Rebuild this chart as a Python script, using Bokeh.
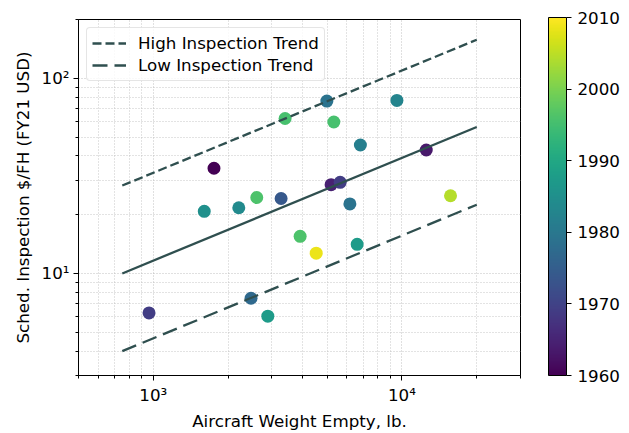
from bokeh.plotting import figure
from bokeh.models import (ColumnDataSource, LinearColorMapper, ColorBar, FixedTicker,
                          Legend)
from bokeh.palettes import Viridis256
from bokeh.embed import file_html
from bokeh.resources import INLINE

# ---- data ----
weight = [961, 1754, 1603, 2207, 2607, 3266, 3389, 2472, 2888, 3896, 4521,
          4990, 5323, 6808, 9547, 12530, 5190, 5644, 6176, 15690, 6607]
cost = [6.28, 34.6, 20.8, 21.7, 24.5, 24.2, 62.2, 7.46, 6.04, 15.5, 12.7,
        76.4, 59.7, 45.5, 77.0, 42.9, 28.5, 29.3, 22.7, 25.0, 14.1]
year = [1969, 1960, 1985, 1984, 1996, 1974, 1995.5, 1977, 1987.5, 1996, 2008.5,
        1979, 1995.5, 1981.5, 1982.5, 1963.5, 1964.5, 1969, 1979, 2004.5, 1987.5]

trend_x = [750, 20000]
trend_mid = [10.0, 56.3]
trend_high = [28.2, 157.5]
trend_low = [4.0, 22.5]

x_major = [1000, 10000]
x_minor = [500, 600, 700, 800, 900, 2000, 3000, 4000, 5000, 6000, 7000, 8000, 9000, 20000, 30000]
y_major = [10, 100]
y_minor = [3, 4, 5, 6, 7, 8, 9, 20, 30, 40, 50, 60, 70, 80, 90, 200]
x_labels = {1000: "10³", 10000: "10⁴"}
y_labels = {10: "10¹", 100: "10²"}
cbar_ticks = [1960, 1970, 1980, 1990, 2000, 2010]

FONT = "DejaVu Sans"
FS = "16.7px"
LINE_COLOR = "#2f4f4f"

p = figure(width=629, height=433, x_axis_type="log", y_axis_type="log",
           x_range=(500, 30000), y_range=(3, 200),
           output_backend="svg", toolbar_location=None,
           min_border_left=78, min_border_right=109, min_border_top=19, min_border_bottom=56)
p.background_fill_color = "white"
p.border_fill_color = "white"
p.outline_line_color = "black"
p.outline_line_width = 1

mapper = LinearColorMapper(palette=Viridis256, low=1960, high=2010)
src = ColumnDataSource(dict(x=weight, y=cost, year=year))
p.scatter("x", "y", source=src, size=13, line_color=None,
          fill_color={"field": "year", "transform": mapper})

p.line(trend_x, trend_mid, line_color=LINE_COLOR, line_width=2.3)
r_high = p.line(trend_x, trend_high, line_color=LINE_COLOR, line_width=2.3, line_dash="9 4")
r_low = p.line(trend_x, trend_low, line_color=LINE_COLOR, line_width=2.3, line_dash="15 7")

legend = Legend(items=[("High Inspection Trend", [r_high]), ("Low Inspection Trend", [r_low])],
                location="top_left")
legend.label_text_font = FONT
legend.label_text_font_size = FS
legend.label_text_color = "black"
legend.glyph_width = 34
legend.label_standoff = 12
legend.spacing = 2
legend.padding = 5
legend.margin = 8
legend.border_line_color = "#cccccc"
legend.border_line_width = 1
legend.background_fill_alpha = 0.8
try:
    legend.border_radius = 4
except Exception:
    pass
p.add_layout(legend, "center")

for ax, major, minor, labels in ((p.xaxis[0], x_major, x_minor, x_labels),
                                 (p.yaxis[0], y_major, y_minor, y_labels)):
    ax.ticker = FixedTicker(ticks=major, minor_ticks=minor)
    ax.major_label_overrides = labels
    ax.major_label_text_font = FONT
    ax.major_label_text_font_size = FS
    ax.major_label_text_color = "black"
    ax.axis_label_text_font = FONT
    ax.axis_label_text_font_size = FS
    ax.axis_label_text_font_style = "normal"
    ax.axis_label_text_color = "black"
    ax.axis_line_color = "black"
    ax.major_tick_line_color = "black"
    ax.minor_tick_line_color = "black"
    ax.major_tick_in = 0
    ax.major_tick_out = 5
    ax.minor_tick_in = 0
    ax.minor_tick_out = 3

p.xaxis.axis_label = "Aircraft Weight Empty, lb."
p.yaxis.axis_label = "Sched. Inspection $/FH (FY21 USD)"
p.xaxis.major_label_standoff = 4
p.yaxis.major_label_standoff = 4
p.xaxis.axis_label_standoff = 3
p.yaxis.axis_label_standoff = 6

for g in (p.xgrid[0], p.ygrid[0]):
    g.grid_line_color = "#b0b0b0"
    g.grid_line_dash = "1 2"
    g.grid_line_width = 0.8
    g.minor_grid_line_color = "#b8b8b8"
    g.minor_grid_line_dash = "1 2"
    g.minor_grid_line_width = 0.8
p.xgrid[0].ticker = p.xaxis[0].ticker
p.ygrid[0].ticker = p.yaxis[0].ticker

cbar = ColorBar(color_mapper=mapper, ticker=FixedTicker(ticks=cbar_ticks),
                width=18, height=358, margin=0, padding=0,
                location=(28, 0),
                bar_line_color="black", bar_line_width=1,
                major_tick_line_color="black", major_tick_in=0, major_tick_out=5,
                major_label_text_font=FONT, major_label_text_font_size=FS,
                major_label_text_color="black", label_standoff=6,
                background_fill_color=None, border_line_color=None)
p.add_layout(cbar, "right")

open("out.html", "w").write(file_html(p, INLINE))
